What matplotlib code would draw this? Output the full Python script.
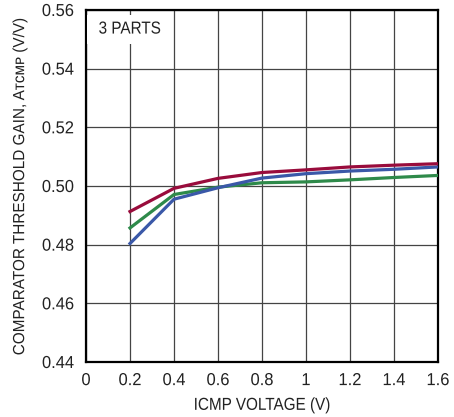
import matplotlib
matplotlib.use("Agg")
import matplotlib.pyplot as plt
from matplotlib.patheffects import AbstractPathEffect
from matplotlib.transforms import Affine2D

plt.rcParams['font.family'] = ['Liberation Sans', 'DejaVu Sans']

icmp_v = [0.2, 0.4, 0.6, 0.8, 1.0, 1.2, 1.4, 1.6]
part_red = [0.4913, 0.4992, 0.5026, 0.5046, 0.5055, 0.5065, 0.5071, 0.5076]
part_blue = [0.4804, 0.4955, 0.4994, 0.5027, 0.5042, 0.5051, 0.5057, 0.5065]
part_green = [0.4857, 0.4971, 0.4996, 0.5011, 0.5014, 0.5021, 0.5029, 0.5036]

x_ticks = [0, 0.2, 0.4, 0.6, 0.8, 1.0, 1.2, 1.4, 1.6]
x_ticklabels = ['0', '0.2', '0.4', '0.6', '0.8', '1', '1.2', '1.4', '1.6']
y_ticks = [0.44, 0.46, 0.48, 0.50, 0.52, 0.54, 0.56]
y_ticklabels = ['0.44', '0.46', '0.48', '0.50', '0.52', '0.54', '0.56']


class Condense(AbstractPathEffect):
    """Squeeze text horizontally about its own centre (narrow typeface look)."""
    def __init__(self, sx):
        super().__init__()
        self.sx = sx

    def draw_path(self, renderer, gc, tpath, affine, rgbFace=None):
        ext = tpath.get_extents()
        cx = (ext.x0 + ext.x1) / 2
        t = Affine2D().translate(-cx, 0).scale(self.sx, 1).translate(cx, 0) + affine
        renderer.draw_path(gc, tpath, t, rgbFace)


fig = plt.figure(figsize=(4.54, 4.17), dpi=100)
ax = fig.add_axes([86/454, 1-362/417, (438-86)/454, (362-10)/417])

ax.plot(icmp_v, part_green, color='#2e8a4a', lw=2.3, zorder=3)
ax.plot(icmp_v, part_blue, color='#3a58a8', lw=2.3, zorder=4)
ax.plot(icmp_v, part_red, color='#990c3c', lw=2.3, zorder=5)

ax.set_xlim(0, 1.6)
ax.set_ylim(0.44, 0.56)
ax.set_xticks(x_ticks)
ax.set_xticklabels(x_ticklabels)
ax.set_yticks(y_ticks)
ax.set_yticklabels(y_ticklabels)
ax.tick_params(length=0, labelsize=12.5, colors='#222222')
ax.tick_params(axis='x', pad=8)
ax.tick_params(axis='y', pad=8)
for lab in ax.get_xticklabels() + ax.get_yticklabels():
    lab.set_path_effects([Condense(0.95)])
ax.grid(True, color='#444444', lw=0.9)
ax.set_axisbelow(True)
for s in ax.spines.values():
    s.set_linewidth(1.6)
    s.set_color('black')

t = ax.text(0.038, 0.5535, '3 PARTS', fontsize=12.5, color='#222222', va='center', ha='left',
            bbox=dict(facecolor='white', edgecolor='none', pad=5), zorder=6)
t.set_path_effects([Condense(0.88)])

xl = ax.set_xlabel('ICMP VOLTAGE (V)', fontsize=12.5, color='#222222', labelpad=7)
xl.set_path_effects([Condense(0.88)])
yl = ax.set_ylabel('COMPARATOR THRESHOLD GAIN, A\u1d1b\u1d04\u1d0d\u1d18 (V/V)', fontsize=11.6,
                   color='#222222', labelpad=10)
yl.set_path_effects([Condense(0.95)])

fig.savefig('out.png', dpi=100)
